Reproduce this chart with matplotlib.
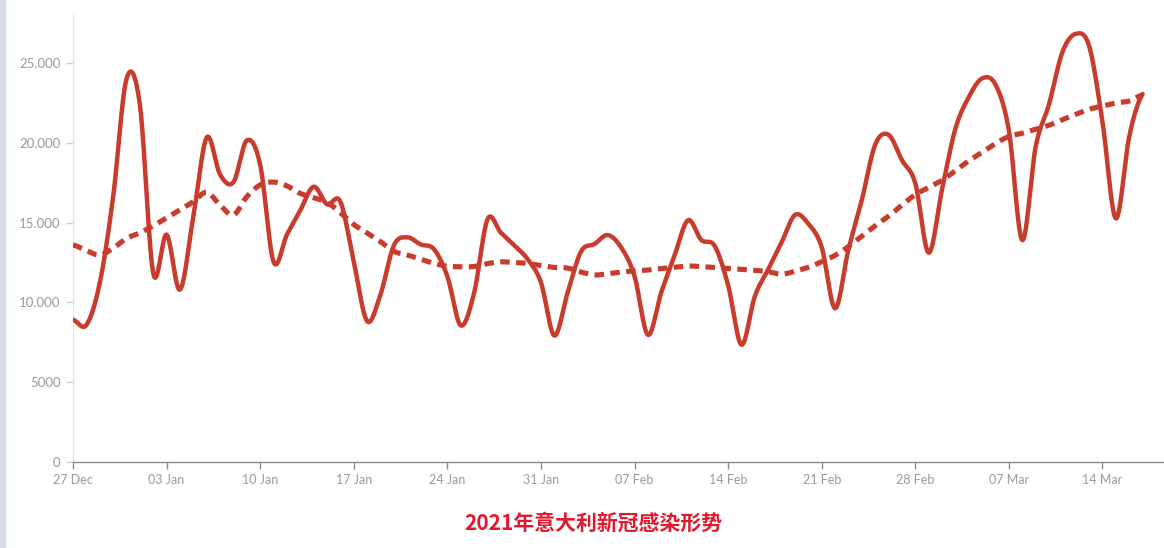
import numpy as np
import pandas as pd
import matplotlib
matplotlib.use("Agg")
import matplotlib.pyplot as plt

# ---- data ----
start_date = "2020-12-27"
daily_cases = [8913, 8585, 11212, 16600, 24000, 22400, 11831, 14245, 10800, 15378,
               20331, 18020, 17533, 20150, 18627, 12545, 14242, 15774, 17246, 16146,
               16310, 12545, 8825, 10497, 13571, 14078, 13633, 13331, 11629, 8561,
               10593, 15204, 14372, 13574, 12715, 11252, 7925, 10630, 13189, 13659,
               14218, 13442, 11641, 7970, 10630, 12956, 15146, 13908, 13532, 11068,
               7351, 10386, 12074, 13762, 15479, 14931, 13452, 9630, 13314, 16424,
               19886, 20499, 18916, 17455, 13114, 17083, 20884, 22865, 24036, 23641,
               20765, 13902, 19749, 22409, 25673, 26824, 26062, 21315, 15267, 20396,
               23059]
trend = [13600, 13250, 12970, 13390, 14020, 14350, 14800, 15300, 15800, 16310,
         16900, 16100, 15480, 16620, 17360, 17540, 17300, 16830, 16560, 16270,
         15620, 14880, 14350, 13800, 13200, 12970, 12710, 12440, 12270, 12230,
         12250, 12430, 12540, 12500, 12440, 12310, 12190, 12150, 11900, 11720,
         11800, 11900, 11980, 12030, 12120, 12200, 12280, 12240, 12180, 12130,
         12070, 12010, 11920, 11770, 11950, 12200, 12550, 12950, 13500, 14150,
         14800, 15400, 16100, 16750, 17200, 17650, 18250, 18870, 19400, 19950,
         20400, 20600, 20850, 21100, 21450, 21780, 22100, 22300, 22500, 22620,
         23000]
yticks = [0, 5000, 10000, 15000, 20000, 25000]
ytick_labels = ["0", "5000", "10.000", "15.000", "20.000", "25.000"]
xtick_labels = ["27 Dec", "03 Jan", "10 Jan", "17 Jan", "24 Jan", "31 Jan", "07 Feb",
                "14 Feb", "21 Feb", "28 Feb", "07 Mar", "14 Mar"]
title = "2021年意大利新冠感染形势"

dates = pd.date_range(start_date, periods=len(daily_cases), freq="D")
x = np.arange(len(dates), dtype=float)


def catmull_rom(xs, ys, n=24):
    ys = np.asarray(ys, dtype=float)
    out_x, out_y = [], []
    N = len(ys)
    for i in range(N - 1):
        p0 = ys[i - 1] if i > 0 else ys[i]
        p1, p2 = ys[i], ys[i + 1]
        p3 = ys[i + 2] if i + 2 < N else ys[i + 1]
        m1 = (p2 - p0) / 2.0
        m2 = (p3 - p1) / 2.0
        t = np.linspace(0, 1, n, endpoint=False)
        h00 = 2 * t**3 - 3 * t**2 + 1
        h10 = t**3 - 2 * t**2 + t
        h01 = -2 * t**3 + 3 * t**2
        h11 = t**3 - t**2
        out_y.append(h00 * p1 + h10 * m1 + h01 * p2 + h11 * m2)
        out_x.append(xs[i] + t * (xs[i + 1] - xs[i]))
    out_x.append([xs[-1]])
    out_y.append([ys[-1]])
    return np.concatenate(out_x), np.concatenate(out_y)


plt.rcParams['font.family'] = ['Lato', 'DejaVu Sans']

W, H = 1164, 548
fig = plt.figure(figsize=(W / 100, H / 100), dpi=100)
fig.patch.set_facecolor("white")
# light strip at left edge
fig.add_artist(plt.Rectangle((0, 0), 5 / W, 1, transform=fig.transFigure,
                             color="#d9dde8", zorder=0))

ax_left = 73 / W
ax_bottom = 1 - 462 / H
ax_top = 1 - 15 / H
ax = fig.add_axes([ax_left, ax_bottom, 1 - ax_left, ax_top - ax_bottom])

line_color = "#c93b2c"
sx, sy = catmull_rom(x, daily_cases)
ax.plot(sx, sy, color=line_color, lw=3.2, solid_capstyle="round",
        solid_joinstyle="round", zorder=3)
tx, ty = catmull_rom(x, trend)
ax.plot(tx, ty, color=line_color, lw=3.7, linestyle=(0, (1.85, 1.25)),
        dash_capstyle="butt", zorder=3)

ax.set_xlim(0, (W - 73) / 13.37)
ax.set_ylim(0, (462 - 15) / 0.01596)

tick_pos = [x[dates.get_loc(pd.Timestamp(d + (" 2020" if "Dec" in d else " 2021")))] for d in xtick_labels]
ax.set_xticks(tick_pos)
ax.set_xticklabels(xtick_labels)
ax.set_yticks(yticks)
ax.set_yticklabels(ytick_labels)

for s in ["top", "right"]:
    ax.spines[s].set_visible(False)
ax.spines["left"].set_color("#e6e6e6")
ax.spines["left"].set_linewidth(1.0)
ax.spines["bottom"].set_color("#8a8a8a")
ax.spines["bottom"].set_linewidth(1.0)

ax.tick_params(axis="x", colors="#8a8a8a", length=5, width=1, labelsize=9,
               labelcolor="#9a9a9a", pad=4)
ax.tick_params(axis="y", colors="#cfcfcf", length=5, width=1, labelsize=9.5,
               labelcolor="#9a9a9a", pad=4)

fig.text(593 / W, 1 - 523 / H, title, color="#e3172d", fontsize=15,
         fontweight="heavy", ha="center", va="center",
         family=["Noto Sans CJK SC", "DejaVu Sans"])

fig.savefig("out.png", dpi=100, facecolor="white")
